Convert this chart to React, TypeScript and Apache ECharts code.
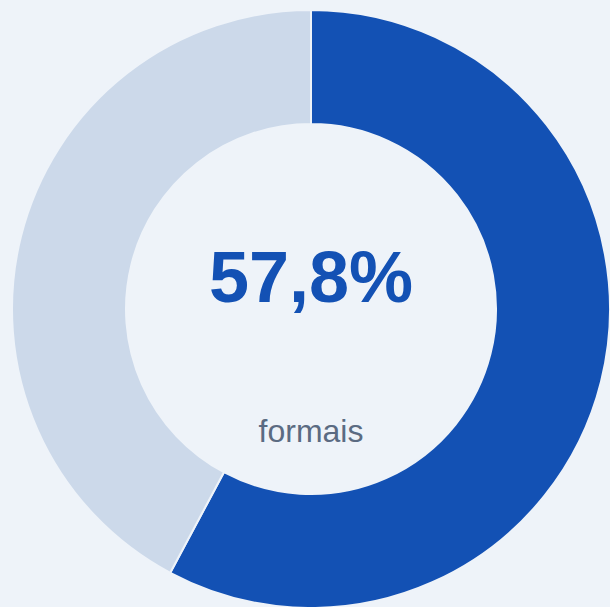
import React, { useEffect, useRef } from "react";
import * as echarts from "echarts";

const categories = ["formais", "informais"];
const values = [57.8, 42.2];
const colors = ["#1351B4", "#CCD9EA"];
const centerLabel = "57,8%";
const subLabel = "formais";

export default function App() {
  const ref = useRef<HTMLDivElement>(null);
  useEffect(() => {
    if (!ref.current) return;
    const chart = echarts.init(ref.current, null, { renderer: "svg" });
    chart.setOption({
      animation: false,
      backgroundColor: "#EEF3F9",
      series: [
        {
          type: "pie",
          center: [311, 309],
          radius: [185, 299],
          startAngle: 90,
          clockwise: true,
          silent: true,
          label: { show: false },
          labelLine: { show: false },
          itemStyle: { borderColor: "#EEF3F9", borderWidth: 2 },
          data: categories.map((c, i) => ({
            name: c,
            value: values[i],
            itemStyle: { color: colors[i] },
          })),
        },
      ],
      graphic: [
        {
          type: "text",
          x: 311,
          y: 277,
          style: {
            text: centerLabel,
            fill: "#1351B4",
            font: "bold 72px 'Liberation Sans', Arial, sans-serif",
            align: "center",
            verticalAlign: "middle",
          },
        },
        {
          type: "text",
          x: 311,
          y: 431,
          style: {
            text: subLabel,
            fill: "#5B6B82",
            font: "32px 'Liberation Sans', Arial, sans-serif",
            align: "center",
            verticalAlign: "middle",
          },
        },
      ],
    });
    return () => chart.dispose();
  }, []);
  return (
    <div
      ref={ref}
      style={{ position: "absolute", left: 0, top: 0, width: 610, height: 607 }}
    />
  );
}
